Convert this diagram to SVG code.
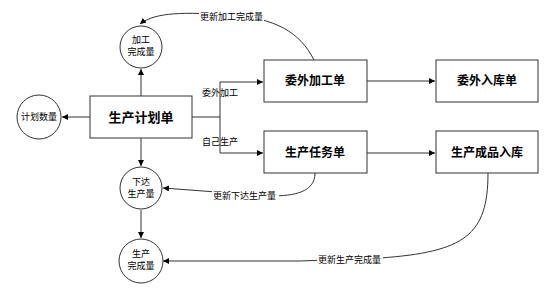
<svg xmlns="http://www.w3.org/2000/svg" width="555" height="291" viewBox="0 0 555 291">
<style>
.box{fill:#fff;stroke:#333;stroke-width:1}
.cir{fill:#fff;stroke:#333;stroke-width:1}
.ln{fill:none;stroke:#333;stroke-width:1}
.t{font-family:"Noto Sans CJK SC","Liberation Sans",sans-serif;fill:#000;text-anchor:middle}
.bt{font-size:12px;font-weight:bold}
.mt{font-size:13px;font-weight:bold}
.st{font-size:9px}
.lbl{font-family:"Noto Sans CJK SC","Liberation Sans",sans-serif;font-size:9px;fill:#000}
</style>
<defs>
<marker id="ah" viewBox="0 0 10 10" refX="10" refY="5" markerWidth="6" markerHeight="6" orient="auto" markerUnits="userSpaceOnUse">
<path d="M0,0 L10,5 L0,10 z" fill="#000"/>
</marker>
</defs>
<rect width="555" height="291" fill="#fff"/>
<g id="connectors">
<path class="ln" d="M90,117 L62,117" marker-end="url(#ah)"/>
<path class="ln" d="M141,96 L141,69" marker-end="url(#ah)"/>
<path class="ln" d="M141,138 L141,166" marker-end="url(#ah)"/>
<path class="ln" d="M141,210 L141,238" marker-end="url(#ah)"/>
<path class="ln" d="M192,117 L220,117"/>
<path class="ln" d="M220,82 L220,153"/>
<path class="ln" d="M220,82 L263,82" marker-end="url(#ah)"/>
<path class="ln" d="M220,153 L263,153" marker-end="url(#ah)"/>
<path class="ln" d="M367,81 L435,81" marker-end="url(#ah)"/>
<path class="ln" d="M367,153 L435,153" marker-end="url(#ah)"/>
<path class="ln" d="M314,60 C300,32 275,18 230,15 C185,12 155,12 140,24" marker-end="url(#ah)"/>
<path class="ln" d="M315,173 C315,192 295,196 270,196 L163,188" marker-end="url(#ah)"/>
<path class="ln" d="M488,173 C488,235 465,252 380,258 L300,261 L163,261" marker-end="url(#ah)"/>
<rect x="199" y="10" width="65" height="12" fill="#fff"/>
<text class="lbl" x="200" y="20">更新加工完成量</text>
<rect x="212" y="189" width="67" height="12" fill="#fff"/>
<text class="lbl" x="213" y="199">更新下达生产量</text>
<rect x="317" y="253" width="66" height="12" fill="#fff"/>
<text class="lbl" x="318" y="263">更新生产完成量</text>
<text class="lbl" x="202" y="96">委外加工</text>
<text class="lbl" x="202" y="145">自己生产</text>
</g>
<g id="plan"><rect class="box" x="90" y="96" width="102" height="42"/><text class="t mt" x="141" y="122">生产计划单</text></g>
<g id="outsource"><rect class="box" x="264" y="60" width="103" height="42"/><text class="t bt" x="315" y="85">委外加工单</text></g>
<g id="outsource-in"><rect class="box" x="436" y="60" width="102" height="42"/><text class="t bt" x="487" y="85">委外入库单</text></g>
<g id="task"><rect class="box" x="264" y="131" width="103" height="42"/><text class="t bt" x="315" y="157">生产任务单</text></g>
<g id="product-in"><rect class="box" x="436" y="131" width="102" height="42"/><text class="t bt" x="487" y="157">生产成品入库</text></g>
<g id="plan-qty"><circle class="cir" cx="39" cy="117" r="22"/><text class="t st" x="39" y="120">计划数量</text></g>
<g id="proc-done"><circle class="cir" cx="141" cy="47" r="21"/><text class="t st" x="141" y="43">加工</text><text class="t st" x="141" y="55">完成量</text></g>
<g id="issued"><circle class="cir" cx="141" cy="188" r="21"/><text class="t st" x="141" y="185">下达</text><text class="t st" x="141" y="197">生产量</text></g>
<g id="prod-done"><circle class="cir" cx="141" cy="261" r="22"/><text class="t st" x="141" y="257">生产</text><text class="t st" x="141" y="269">完成量</text></g>
</svg>
